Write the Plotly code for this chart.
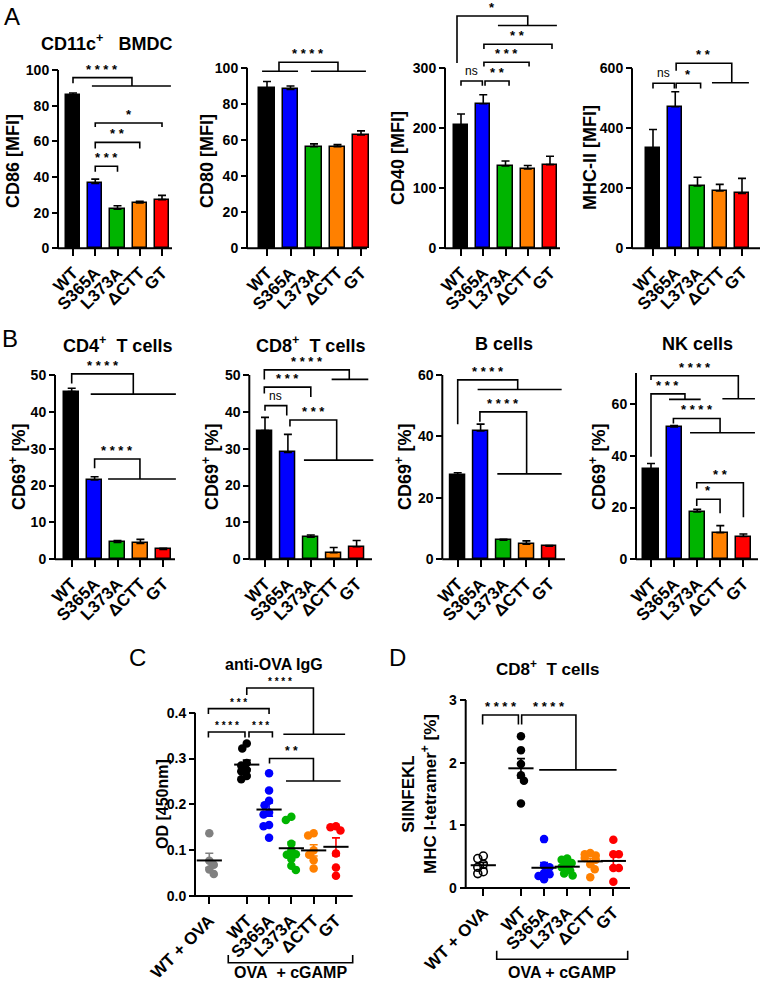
import numpy as np
import plotly.graph_objects as go

W, H = 762, 983
FONT = "Liberation Sans, Arial, Helvetica, sans-serif"

# ---------------- data ----------------
CATS = ["WT", "S365A", "L373A", "ΔCTT", "GT"]
COLORS = ["#000000", "#0000FF", "#00B400", "#FF8000", "#FF0000"]

# Panel A: CD11c+ BMDC, MFI (mean, SEM)
CD86_MEAN = [85.8, 36.4, 21.9, 25.4, 27.3]
CD86_SEM = [1.3, 2.4, 2.0, 1.0, 2.4]
CD80_MEAN = [88.6, 88.0, 56.3, 56.3, 62.7]
CD80_SEM = [3.8, 1.9, 1.5, 1.1, 2.3]
CD40_MEAN = [204, 240, 137, 132, 139]
CD40_SEM = [19, 15, 8, 5.5, 14]
MHCII_MEAN = [333, 472, 208, 191, 183]
MHCII_SEM = [63, 50, 29, 22, 50]

# Panel B: CD69+ [%] (mean, SEM)
CD4_MEAN = [45.5, 21.5, 4.6, 4.3, 2.7]
CD4_SEM = [0.9, 0.9, 0.5, 1.1, 0.3]
CD8_MEAN = [34.9, 29.0, 6.0, 1.8, 3.4]
CD8_SEM = [3.6, 4.9, 0.6, 1.4, 1.7]
BCELL_MEAN = [27.4, 41.8, 6.2, 4.9, 4.3]
BCELL_SEM = [0.8, 2.2, 0.3, 1.1, 0.2]
NK_MEAN = [34.8, 51.1, 18.3, 10.3, 8.8]
NK_SEM = [2.2, 0.6, 1.0, 2.7, 1.0]

# Panels C / D: individual animals
CATS_CD = ["WT + OVA", "WT", "S365A", "L373A", "ΔCTT", "GT"]
COLORS_CD = ["#808080"] + COLORS

OD_WT_OVA = [0.137, 0.077, 0.068, 0.058, 0.048]
OD_WT = [0.333, 0.322, 0.290, 0.285, 0.275, 0.272, 0.262, 0.255]
OD_S365A = [0.268, 0.230, 0.208, 0.198, 0.182, 0.178, 0.155, 0.152, 0.127]
OD_L373A = [0.173, 0.166, 0.114, 0.100, 0.091, 0.090, 0.081, 0.066, 0.057]
OD_DCTT = [0.137, 0.132, 0.100, 0.090, 0.078, 0.060]
OD_GT = [0.152, 0.150, 0.143, 0.093, 0.062, 0.044]

TET_WT_OVA = [0.51, 0.47, 0.38, 0.33, 0.26, 0.23]
TET_WT = [2.42, 2.20, 1.98, 1.80, 1.71, 1.35]
TET_S365A = [0.78, 0.36, 0.33, 0.24, 0.22, 0.19, 0.14]
TET_L373A = [0.47, 0.45, 0.40, 0.36, 0.33, 0.28, 0.23, 0.20]
TET_DCTT = [0.56, 0.54, 0.52, 0.48, 0.45, 0.38, 0.30, 0.17]
TET_GT = [0.77, 0.54, 0.54, 0.32, 0.32, 0.10]

# ---------------- helpers ----------------
fig = go.Figure()
axes = {}
shapes = []
annots = []
SCALES = {}


def refs(k):
    return ("x", "y") if k == 1 else (f"x{k}", f"y{k}")


def make_subplot(k, ax_px, end_px, c0_px, step_px, y0_px, yv_px, yv, top_px,
                 xtickvals, xticktext, ytickvals, y_axis_top, ytickformat=None):
    xs = lambda px: (px - c0_px) / step_px
    yscale = (y0_px - yv_px) / yv
    left, right = max(ax_px - 8, 0), min(end_px + 8, W)
    top_px = max(top_px, 0)
    bottom = min(y0_px + 4, H)
    sfx = "" if k == 1 else str(k)
    xr, yr = refs(k)
    SCALES[k] = (step_px, yscale)
    axes["xaxis" + sfx] = dict(
        domain=[left / W, right / W], range=[xs(left), xs(right)], automargin=False,
        anchor="free", position=1 - y0_px / H, showline=False, showgrid=False,
        zeroline=False, ticks="outside", ticklen=7, tickwidth=2, tickcolor="black",
        tickvals=xtickvals, ticktext=xticktext, tickangle=-45,
        tickfont=dict(family=FONT, size=17, color="black", weight="bold"),
    )
    yax = dict(
        domain=[1 - bottom / H, 1 - top_px / H], range=[-(bottom - y0_px) / yscale, (y0_px - top_px) / yscale],
        anchor="free", position=ax_px / W, showline=False, showgrid=False, automargin=False,
        zeroline=False, ticks="outside", ticklen=6, tickwidth=2, tickcolor="black",
        tickvals=ytickvals,
        tickfont=dict(family=FONT, size=14, color="black", weight="bold"),
    )
    if ytickformat:
        yax["tickformat"] = ytickformat
    axes["yaxis" + sfx] = yax
    x_left = xs(ax_px)
    shapes.append(dict(type="line", xref=xr, yref=yr, x0=x_left, x1=xs(end_px), y0=0, y1=0,
                       line=dict(color="black", width=2)))
    shapes.append(dict(type="line", xref=xr, yref=yr, x0=x_left, x1=x_left, y0=0, y1=y_axis_top,
                       line=dict(color="black", width=2)))


def bracket(k, x1, y1, x2, yt, y3, label, size=13):
    xr, yr = refs(k)
    shapes.append(dict(type="path", xref=xr, yref=yr,
                       path=f"M {x1},{y1} L {x1},{yt} L {x2},{yt} L {x2},{y3}",
                       line=dict(color="black", width=1.6)))
    if label == "ns":
        annots.append(dict(x=(x1 + x2) / 2, y=yt, xref=xr, yref=yr, text="ns", showarrow=False,
                           yanchor="bottom", yshift=1, font=dict(family=FONT, size=12, color="black")))
    else:
        annots.append(dict(x=(x1 + x2) / 2, y=yt, xref=xr, yref=yr, text=" ".join(label), showarrow=False,
                           yanchor="bottom", yshift=-1,
                           font=dict(family=FONT, size=size, color="black", weight="bold")))


def group_line(k, xa, xb, y):
    xr, yr = refs(k)
    shapes.append(dict(type="line", xref=xr, yref=yr, x0=xa, x1=xb, y0=y, y1=y,
                       line=dict(color="black", width=1.6)))


def text_px(x, y, text, size, bold=True, angle=0):
    annots.append(dict(x=x / W, y=1 - y / H, xref="paper", yref="paper", text=text, showarrow=False,
                       xanchor="center", yanchor="middle", textangle=angle,
                       font=dict(family=FONT, size=size, color="black", weight="bold" if bold else "normal")))


def bars(k, mean, sem):
    xr, yr = refs(k)
    fig.add_trace(go.Bar(
        x=list(range(len(CATS))), y=mean, width=0.65, xaxis=xr, yaxis=yr,
        marker=dict(color=COLORS, line=dict(color="black", width=1.5)),
        error_y=dict(type="data", array=sem, arrayminus=[0] * len(sem), symmetric=False,
                     color="black", thickness=1.6, width=4),
        showlegend=False, hoverinfo="skip"))


def swarm(vals, xscale, yscale, diam=8.5):
    placed, offs = [], []
    for i, v in enumerate(vals):
        yp = v * yscale
        chosen = 0.0
        for t in range(0, 12):
            sgn = 1 if i % 2 == 0 else -1
            cands = [0.0] if t == 0 else [sgn * t * 1.5, -sgn * t * 1.5]
            ok = None
            for c in cands:
                if all((c - px) ** 2 + (yp - py) ** 2 >= (diam * 0.7) ** 2 for px, py in placed):
                    ok = c
                    break
            if ok is not None:
                chosen = ok
                break
        chosen = max(-5.5, min(5.5, chosen))
        placed.append((chosen, yp))
        offs.append(chosen / xscale)
    return offs


def dots(k, positions, groups, open_first=False):
    xr, yr = refs(k)
    xscale, yscale = SCALES[k]
    for gi, (pos, vals, col) in enumerate(zip(positions, groups, COLORS_CD)):
        offs = swarm(vals, xscale, yscale)
        if open_first and gi == 0:
            mk = dict(symbol="circle-open", size=8, color="black", line=dict(width=1.6, color="black"))
            ecol = "black"
        else:
            mk = dict(symbol="circle", size=8.5, color=col, line=dict(width=0))
            ecol = col
        fig.add_trace(go.Scatter(x=[pos + o for o in offs], y=vals, mode="markers", marker=mk,
                                 xaxis=xr, yaxis=yr, showlegend=False, hoverinfo="skip", cliponaxis=False))
        m = float(np.mean(vals))
        s = float(np.std(vals, ddof=1) / np.sqrt(len(vals)))
        fig.add_trace(go.Scatter(x=[pos], y=[m], mode="markers", xaxis=xr, yaxis=yr,
                                 marker=dict(symbol="line-ew", size=18, line=dict(color="black", width=2)),
                                 error_y=dict(type="data", array=[s], color=ecol, thickness=1.6, width=4),
                                 showlegend=False, hoverinfo="skip", cliponaxis=False))


# ---------------- Panel A ----------------
T5 = list(range(5))
make_subplot(1, 58, 172, 73, 22.25, 248.3, 70, 100, 2, T5, CATS, [0, 20, 40, 60, 80, 100], 100)
bars(1, CD86_MEAN, CD86_SEM)
bracket(1, 0, 92.5, 2.65, 95.7, 91, "****")
group_line(1, 0.85, 4.4, 91)
bracket(1, 1, 68, 4, 70.3, 68, "*")
bracket(1, 1, 56, 3, 59.4, 56, "**")
bracket(1, 1, 43, 2, 46, 43, "***")

make_subplot(2, 247, 367, 267, 23.5, 248.3, 67.7, 100, 2, T5, CATS, [0, 20, 40, 60, 80, 100], 100)
bars(2, CD80_MEAN, CD80_SEM)
bracket(2, 0.51, 98, 3.02, 103, 98, "****")
group_line(2, -0.21, 1.32, 98)
group_line(2, 1.87, 4.21, 98)

make_subplot(3, 445, 560, 461, 22.25, 248.3, 67.7, 300, 0, T5, CATS, [0, 100, 200, 300], 300)
bars(3, CD40_MEAN, CD40_SEM)
bracket(3, 0, 270, 0.96, 278, 270, "ns")
bracket(3, 1.08, 270, 2.16, 278, 270, "**")
bracket(3, 1.03, 302, 3.06, 309, 302, "***")
bracket(3, 1.03, 331, 4.09, 339, 331, "**")
bracket(3, -0.18, 308, 3.0, 386, 370, "*")
group_line(3, 1.66, 4.31, 370)

make_subplot(4, 632, 760, 653, 22.25, 248.3, 68.3, 600, 2, T5, CATS, [0, 200, 400, 600], 600)
bars(4, MHCII_MEAN, MHCII_SEM)
bracket(4, 0, 533, 0.96, 550, 533, "ns")
bracket(4, 1.04, 533, 2.14, 550, 533, "*")
bracket(4, 1.04, 592, 3.54, 617, 552, "**")
group_line(4, 2.65, 4.31, 552)

# ---------------- Panel B ----------------
make_subplot(5, 55, 175, 71.7, 22.9, 559.3, 375, 50, 340, T5, CATS, [0, 10, 20, 30, 40, 50], 50)
bars(5, CD4_MEAN, CD4_SEM)
bracket(5, 0, 47.7, 2.69, 50.3, 44.8, "****")
group_line(5, 0.83, 4.55, 44.8)
bracket(5, 1, 24.7, 2.98, 27.2, 21.8, "****")
group_line(5, 1.59, 4.55, 21.8)

make_subplot(6, 249.3, 372, 265, 22.9, 559.3, 375, 50, 340, T5, CATS, [0, 10, 20, 30, 40, 50], 50)
bars(6, CD8_MEAN, CD8_SEM)
bracket(6, -0.03, 48.8, 3.68, 51.4, 48.8, "****")
group_line(6, 2.91, 4.51, 48.8)
bracket(6, -0.03, 45, 2.0, 46.7, 44, "***")
bracket(6, 0, 40.3, 0.95, 41.7, 39, "ns")
bracket(6, 1.09, 36, 3.13, 37.8, 26.9, "***")
group_line(6, 1.7, 4.73, 26.9)

make_subplot(7, 442.3, 565, 457.7, 22.9, 559.3, 375, 60, 340, T5, CATS, [0, 20, 40, 60], 60)
bars(7, BCELL_MEAN, BCELL_SEM)
bracket(7, 0, 44, 2.62, 58.4, 55.3, "****")
group_line(7, 0.87, 4.54, 55.3)
bracket(7, 0.97, 44.8, 3.01, 48, 27.8, "****")
group_line(7, 1.73, 4.54, 27.8)

make_subplot(8, 636, 758, 651, 23.1, 559.3, 404, 60, 340, T5, CATS, [0, 20, 40, 60], 72)
bars(8, NK_MEAN, NK_SEM)
bracket(8, 0, 69.3, 3.78, 70.9, 62, "****")
group_line(8, 3.09, 4.5, 62)
bracket(8, 0, 39.6, 1.47, 63.9, 61.8, "***")
group_line(8, 0.78, 2.15, 61.8)
bracket(8, 0.97, 52.5, 2.99, 54.4, 48.9, "****")
group_line(8, 1.69, 4.5, 48.9)
bracket(8, 1.98, 27.4, 4.0, 29.6, 16.2, "**")
bracket(8, 1.98, 20.6, 2.99, 23.2, 17.8, "*")

# ---------------- Panel C ----------------
GAP_C = 1.68
POS_C = [0] + [GAP_C + i for i in range(5)]
make_subplot(9, 195, 352.7, 209.3, 22.3, 896, 712.7, 0.4, 660, POS_C, CATS_CD,
             [0, 0.1, 0.2, 0.3, 0.4], 0.4, ".1f")
dots(9, POS_C, [OD_WT_OVA, OD_WT, OD_S365A, OD_L373A, OD_DCTT, OD_GT])
bracket(9, 1.68, 0.4386, 4.67, 0.454, 0.353, "****", size=10)
group_line(9, 3.32, 6.09, 0.353)
bracket(9, -0.04, 0.397, 2.68, 0.409, 0.397, "***", size=10)
bracket(9, -0.04, 0.346, 1.6, 0.358, 0.346, "****", size=10)
bracket(9, 1.78, 0.346, 2.83, 0.358, 0.346, "***", size=10)
bracket(9, 2.7, 0.289, 4.67, 0.3, 0.251, "**", size=12)
group_line(9, 3.44, 5.89, 0.251)

# ---------------- Panel D ----------------
GAP_D = 1.63
POS_D = [0] + [GAP_D + i for i in range(5)]
make_subplot(10, 465.7, 630, 483.3, 23.1, 888, 700, 3, 660, POS_D, CATS_CD, [0, 1, 2, 3], 3)
dots(10, POS_D, [TET_WT_OVA, TET_WT, TET_S365A, TET_L373A, TET_DCTT, TET_GT], open_first=True)
bracket(10, -0.03, 2.61, 1.52, 2.76, 2.61, "****")
bracket(10, 1.66, 2.61, 4.01, 2.76, 1.885, "****")
group_line(10, 2.42, 5.77, 1.885)

# "OVA + cGAMP" group brackets under C and D
for k, xa, xb, label in [(9, 0.85, 6.43, "OVA\u00a0\u00a0+ cGAMP"), (10, 0.58, 6.25, "OVA + cGAMP")]:
    xr, _ = refs(k)
    ytop = 955 if k == 9 else 950.7
    ybot = 962.7 if k == 9 else 959.3
    shapes.append(dict(type="path", xref=xr, yref="paper",
                       path=f"M {xa},{1 - ytop / H} L {xa},{1 - ybot / H} L {xb},{1 - ybot / H} L {xb},{1 - ytop / H}",
                       line=dict(color="black", width=1.6)))
    annots.append(dict(x=(xa + xb) / 2, y=1 - 983 / H, xref=xr, yref="paper", text=label, showarrow=False,
                       xanchor="center", yanchor="bottom",
                       font=dict(family=FONT, size=16, color="black", weight="bold")))

# ---------------- titles / labels ----------------
text_px(12, 16, "A", 24, bold=False)
text_px(10, 338, "B", 24, bold=False)
text_px(137, 657, "C", 24, bold=False)
text_px(397, 657, "D", 24, bold=False)

text_px(106, 43, "CD11c<sup>+</sup>\u00a0\u00a0\u00a0BMDC", 18)
text_px(117, 344, "CD4<sup>+</sup>\u00a0\u00a0T cells", 18)
text_px(310, 344, "CD8<sup>+</sup>\u00a0\u00a0T cells", 18)
text_px(504, 344, "B cells", 18)
text_px(697, 344, "NK cells", 18)
text_px(274, 664, "anti-OVA IgG", 16)
text_px(547, 668, "CD8<sup>+</sup>\u00a0\u00a0T cells", 17)

text_px(13, 161, "CD86 [MFI]", 18, angle=-90)
text_px(207, 161, "CD80 [MFI]", 18, angle=-90)
text_px(398, 158, "CD40 [MFI]", 18, angle=-90)
text_px(590, 158, "MHC-II [MFI]", 18, angle=-90)
for xpx in [17, 210, 403, 597]:
    text_px(xpx, 467, "CD69<sup>+</sup> [%]", 18, angle=-90)
text_px(162, 804, "OD [450nm]", 16, angle=-90)
text_px(419, 794, "SIINFEKL<br>MHC I-tetramer<sup>+</sup> [%]", 17, angle=-90)

fig.update_layout(
    width=W, height=H, margin=dict(l=0, r=0, t=0, b=0, autoexpand=False),
    paper_bgcolor="white", plot_bgcolor="rgba(0,0,0,0)",
    showlegend=False, bargap=0, shapes=shapes, annotations=annots,
    font=dict(family=FONT, color="black"),
    **axes,
)
fig.write_html("out.html", config={"displayModeBar": False},
               post_script="document.body.style.margin='0px';")
